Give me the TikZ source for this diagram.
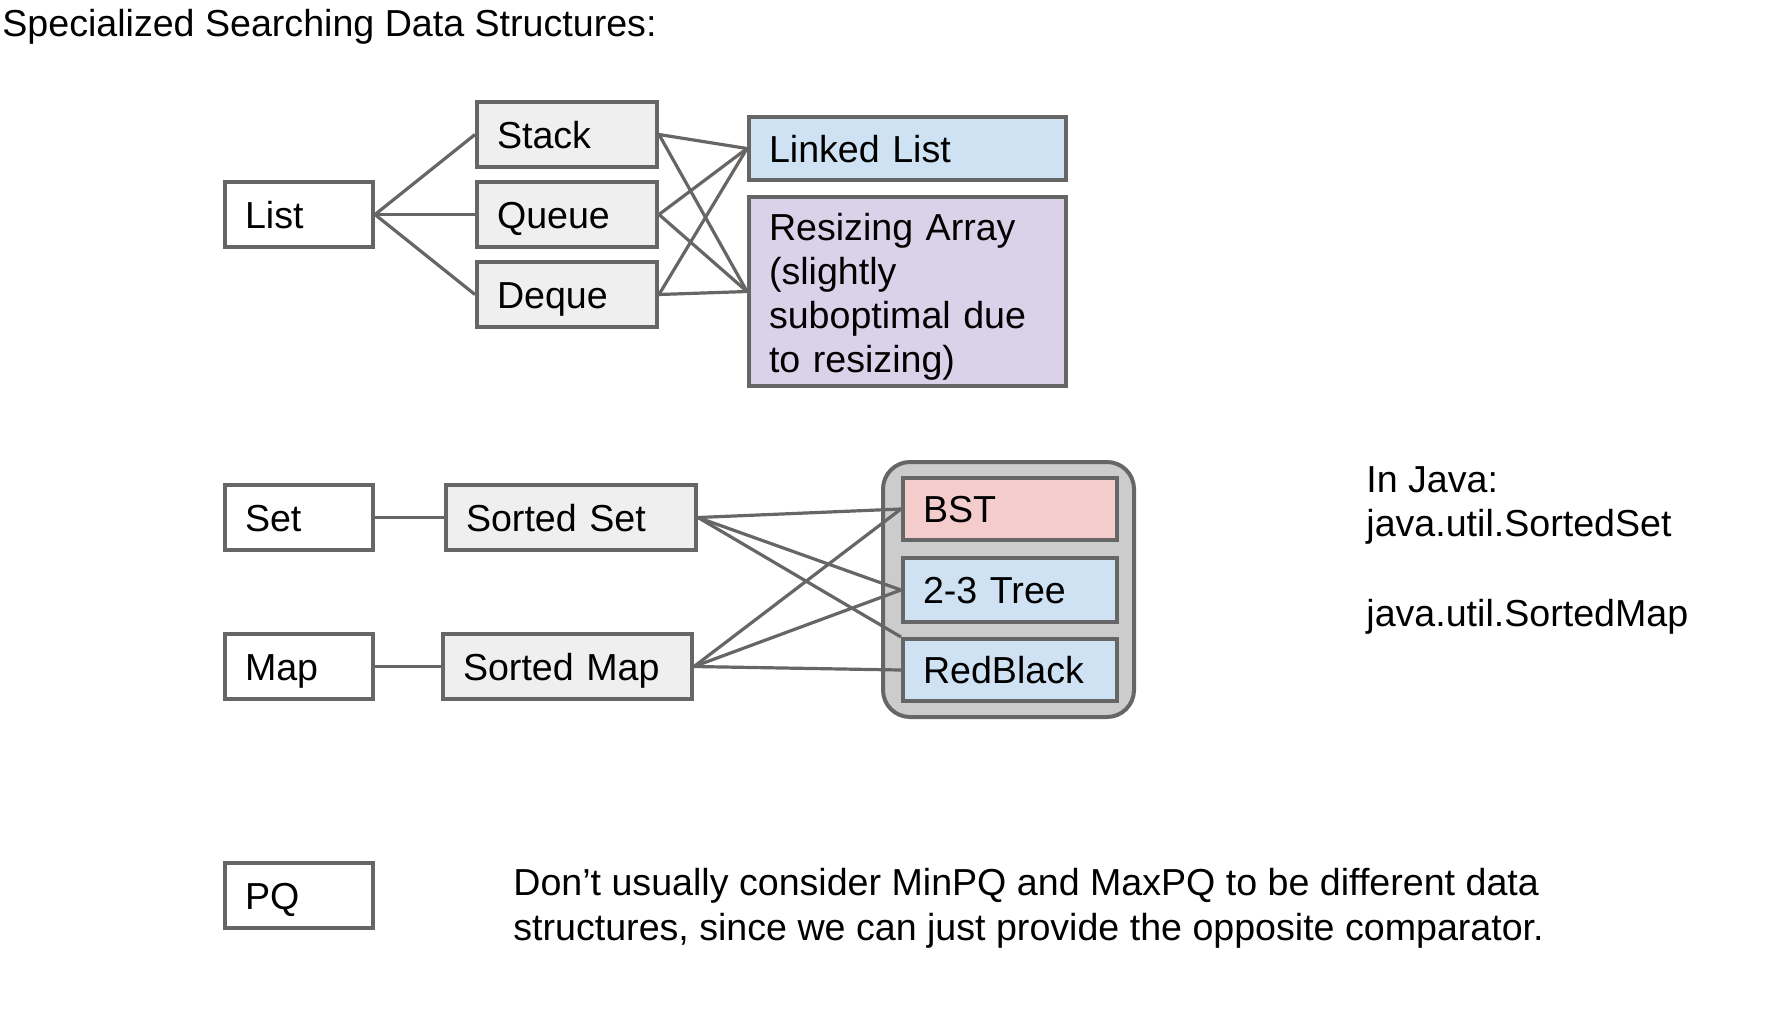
\documentclass[tikz,border=0pt]{standalone}
\usepackage{fontspec}
\setmainfont{Liberation Sans}
\definecolor{edge}{HTML}{666666}
\definecolor{boxgray}{HTML}{EFEFEF}
\definecolor{blue1}{HTML}{CFE2F3}
\definecolor{purple1}{HTML}{D9D2E9}
\definecolor{red1}{HTML}{F4CCCC}
\definecolor{groupgray}{HTML}{CCCCCC}
\begin{document}
\begin{tikzpicture}[x=0.5pt,y=-0.5pt,
  every node/.style={font=\fontsize{18.8}{22}\selectfont},
  basebox/.style={draw=edge, line width=2pt, inner xsep=10pt, inner ysep=0pt, anchor=north west, align=left},
  box/.style={basebox, text height=13.5pt, text depth=0pt, minimum height=32.5pt},
  link/.style={draw=edge, line width=1.6pt},
  ]
\useasboundingbox (0,0) rectangle (1776,1018);
\node[anchor=base west, inner sep=0pt] (title) at (2,36) {Specialized Searching Data Structures:};
\node[box, text width=54pt] (list) at (223,180) {List};
\node[box, fill=boxgray, text width=70pt] (stack) at (475,100) {Stack};
\node[box, fill=boxgray, text width=70pt] (queue) at (475,180) {Queue};
\node[box, fill=boxgray, text width=70pt] (deque) at (475,260) {Deque};
\node[box, fill=blue1, text width=138.5pt, minimum height=31.5pt] (linked) at (747,115) {Linked List};
\node[basebox, fill=purple1, text width=138.5pt, minimum height=94.5pt] (resizing) at (747,195) {\rule{0pt}{18.5pt}Resizing Array\\(slightly\\suboptimal due\\to resizing)};
\node[box, text width=54pt] (set) at (223,483) {Set};
\node[box, fill=boxgray, text width=105pt] (sortedset) at (444,483) {Sorted Set};
\node[box, text width=54pt] (map) at (223,632) {Map};
\node[box, fill=boxgray, text width=104.5pt] (sortedmap) at (441,632) {Sorted Map};
\node[basebox, fill=groupgray, rounded corners=13.5pt, minimum width=125.5pt, minimum height=127.5pt] (trees) at (881,460) {};
\node[box, fill=red1, text width=87pt, minimum height=31pt] (bst) at (901,476) {BST};
\node[box, fill=blue1, text width=87pt, minimum height=32pt] (twothree) at (901,556) {2-3 Tree};
\node[box, fill=blue1, text width=87pt, minimum height=31pt] (redblack) at (901,637) {RedBlack};
\node[box, text width=54pt] (pq) at (223,861) {PQ};
\node[anchor=north west, inner sep=0pt, align=left] (java) at (1366,466) {In Java:\\java.util.SortedSet\\[23pt]java.util.SortedMap};
\node[anchor=north west, inner sep=0pt, align=left, font=\fontsize{18.8}{22.5}\selectfont] (note) at (513,868) {Don’t usually consider MinPQ and MaxPQ to be different data\\structures, since we can just provide the opposite comparator.};
\draw[link] (list.east) -- (stack.west);
\draw[link] (list.east) -- (queue.west);
\draw[link] (list.east) -- (deque.west);
\draw[link] (stack.east) -- (linked.west);
\draw[link] (stack.east) -- (resizing.west);
\draw[link] (queue.east) -- (linked.west);
\draw[link] (queue.east) -- (resizing.west);
\draw[link] (deque.east) -- (linked.west);
\draw[link] (deque.east) -- (resizing.west);
\draw[link] (set.east) -- (sortedset.west);
\draw[link] (map.east) -- (sortedmap.west);
\draw[link] (sortedset.east) -- (bst.west);
\draw[link] (sortedset.east) -- (twothree.west);
\draw[link] (sortedset.east) -- (redblack.north west);
\draw[link] (sortedmap.east) -- (bst.west);
\draw[link] (sortedmap.east) -- (twothree.west);
\draw[link] (sortedmap.east) -- (redblack.west);
\end{tikzpicture}
\end{document}
